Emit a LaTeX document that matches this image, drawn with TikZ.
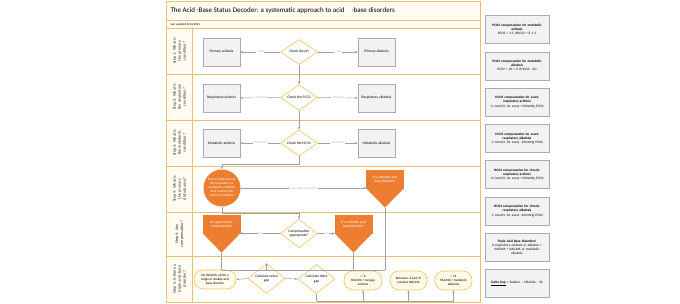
\documentclass[tikz,border=0pt]{standalone}
\usepackage{fontspec}
\setmainfont{Carlito}
\usetikzlibrary{arrows.meta,shapes.geometric,positioning,calc}
\definecolor{laneGold}{RGB}{231,194,110}
\definecolor{diaGold}{RGB}{240,196,96}
\definecolor{decOrange}{RGB}{237,125,49}
\definecolor{boxGray}{RGB}{170,170,170}
\definecolor{boxFill}{RGB}{242,242,242}
\definecolor{lineGray}{RGB}{160,160,160}
\definecolor{creamFill}{RGB}{255,251,240}
\definecolor{stadFill}{RGB}{255,249,232}

\begin{document}
\begin{tikzpicture}[x=1pt, y=-1pt,
  every node/.style={font=\fontsize{3.6}{4.3}\selectfont},
  lanerule/.style={laneGold, line width=0.8pt},
  lanelabel/.style={rotate=90, align=center, text=black!80,
                    font=\fontsize{4.2}{5}\selectfont},
  procbox/.style={draw=boxGray, fill=boxFill, minimum width=37pt,
                  minimum height=28pt, align=center, inner sep=1pt},
  decision/.style={diamond, draw=diaGold, fill=white, line width=0.6pt,
                   minimum width=37pt, minimum height=25pt, inner sep=0pt,
                   align=center},
  primcirc/.style={circle, fill=decOrange, text=white, minimum size=37pt,
                   inner sep=0pt, align=center,
                   font=\fontsize{3.3}{4}\selectfont},
  sigtop/.style={fill=decOrange, draw=decOrange, line width=0.2pt,
                 text=white, minimum width=37pt, minimum height=18pt,
                 inner sep=0pt, align=center},
  stadium/.style={draw=diaGold, fill=stadFill, line width=0.6pt,
                  rounded corners=9pt, minimum width=37pt,
                  minimum height=19pt, inner sep=0.5pt, align=center,
                  font=\fontsize{3.3}{4}\selectfont},
  notebox/.style={draw=boxGray, fill=boxFill, minimum width=64pt,
                  minimum height=28pt, text width=63pt, align=center,
                  inner sep=0.5pt, font=\fontsize{3.4}{4.2}\selectfont},
  elabel/.style={fill=white, text=black!30, inner sep=0.6pt,
                 font=\fontsize{3}{3.5}\selectfont},
  arrow/.style={-{Stealth[length=3pt,width=2.4pt]}, lineGray, line width=0.5pt},
  line/.style={lineGray, line width=0.5pt},
]
\useasboundingbox (0,0) rectangle (680,304);

%% ── Frame, title and swim lanes ──────────────────────────────────────────
\draw[lanerule, fill=creamFill] (166,1) rectangle (480,302);
\fill[white] (192,28) rectangle (480,302);
\foreach \y in {20,28,74,120,166,212,256} {
  \draw[lanerule] (166,\y) -- (480,\y);
}
\draw[lanerule] (192,28) -- (192,302);
\draw[lanerule] (166,1) rectangle (480,302);

\node[anchor=west, font=\fontsize{7}{8}\selectfont] (title) at (167,11)
  {The Acid -Base Status Decoder: a systematic approach to acid\hspace{7pt}-base disorders};
\node[anchor=west, font=\fontsize{3}{3.5}\selectfont] (updated) at (167,24.3)
  {Last updated 8/24/2021};

\foreach \i/\y/\txt in {
  1/51/{Step 1: What is\\the primary\\condition?},
  2/97/{Step 2: What is\\the respiratory\\condition?},
  3/143/{Step 3: What is\\the metabolic\\condition?},
  4/189/{Step 4: What is\\the primary\\disturbance?},
  5/234/{Step 4: Any\\compensation?},
  6/279/{Step 5: Is there a\\triple acid -base\\disorder?}} {
  \node[lanelabel] (step\i) at (179.5,\y) {\txt};
}

%% ── Steps 1-3: pH, PCO2, HCO3 ────────────────────────────────────────────
\node[procbox] (pacid) at (221.5,52) {Primary acidosis};
\node[decision] (ph)   at (299,52)   {Check the pH};
\node[procbox] (palk)  at (376.5,52) {Primary alkalosis};

\node[procbox] (racid) at (221.5,98) {Respiratory acidosis};
\node[decision] (pco)  at (299,97.5) {Check the PCO2};
\node[procbox] (ralk)  at (376.5,98) {Respiratory alkalosis};

\node[procbox] (macid) at (221.5,143) {Metabolic acidosis};
\node[decision] (hco)  at (299,143)   {Check the HCO3};
\node[procbox] (malk)  at (376.5,143) {Metabolic alkalosis};

\draw[arrow] (ph.west)  -- node[elabel] {<7.40} (pacid.east);
\draw[arrow] (ph.east)  -- node[elabel] {>7.40} (palk.west);
\draw[arrow] (ph.south) -- (pco.north);
\draw[arrow] (pco.west) -- node[elabel] {>40mmHg} (racid.east);
\draw[arrow] (pco.east) -- node[elabel] {<40mmHg} (ralk.west);
\draw[arrow] (pco.south) -- (hco.north);
\draw[arrow] (hco.west) -- node[elabel] {<24mmol/L} (macid.east);
\draw[arrow] (hco.east) -- node[elabel] {>24mmol/L} (malk.west);

%% ── Step 4: primary disturbance ──────────────────────────────────────────
\node[primcirc] (prim) at (222,188)
  {Primary disturbance:\\the respiratory or\\metabolic condition\\that matches the\\primary condition};
\node[sigtop] (dbl1) at (385,179.5) {It's a double acid\\base disorder!};
\coordinate (dbl1-tip) at ($(dbl1.south)+(0,19)$);
\fill[decOrange] (dbl1.south west) -- (dbl1.south east) -- (dbl1-tip) -- cycle;

\draw[arrow] (hco.south) -- ++(0,8) -| (prim.north);
\draw[arrow] (prim.east) -- node[elabel] {More than one match?}
  (prim.east -| dbl1.west);

%% ── Step 4: compensation ─────────────────────────────────────────────────
\node[decision, minimum height=27pt] (comp) at (299,233.5)
  {Compensation\\appropriate?};
\node[sigtop] (appr) at (221.5,224.5) {It's appropriate\\compensation};
\coordinate (appr-tip) at ($(appr.south)+(0,19)$);
\fill[decOrange] (appr.south west) -- (appr.south east) -- (appr-tip) -- cycle;
\node[sigtop] (dbl2) at (353.5,224.5) {It's a double acid\\base disorder!};
\coordinate (dbl2-tip) at ($(dbl2.south)+(0,19)$);
\fill[decOrange] (dbl2.south west) -- (dbl2.south east) -- (dbl2-tip) -- cycle;

\draw[arrow] (prim.south) -- ++(0,7) -| (comp.north);
\draw[arrow] (comp.west) -- node[elabel] {Yes} (comp.west -| appr.east);
\draw[arrow] (comp.east) -- node[elabel] {No} (comp.east -| dbl2.west);

%% ── Step 5: triple disorder ──────────────────────────────────────────────
\node[stadium, minimum width=42pt] (nohag) at (215,279.5)
  {No HAGMA; either a\\single or double acid\\base disorder};
\node[decision, minimum height=30pt] (ag) at (266.5,278.5)
  {Calculate anion\\gap};
\node[decision, minimum height=29pt] (dg) at (316.5,279)
  {Calculate delta\\gap};
\node[stadium, minimum width=38pt] (hag1) at (363,280.5)
  {< -6\\HAGMA + nongap\\acidosis};
\node[stadium] (hag2) at (408.5,280.5) {Between -6 and +6\\Isolated HAGMA};
\node[stadium] (hag3) at (453.5,280.5) {> +6\\HAGMA + metabolic\\alkalosis};

%% bus from the three orange outcomes
\draw[line] (appr-tip) -- ++(0,17.5) coordinate (busL);
\draw[line] (dbl2-tip) -- (dbl2-tip |- busL);
\draw[line] (dbl1-tip) -- (dbl1-tip |- busL);
\draw[line] (busL) -- (busL -| dbl1-tip);
\draw[arrow] (busL -| ag.north) -- (ag.north);

\draw[arrow] (ag.west) -- (nohag.east);
\draw[arrow] (ag.east) -- (dg.west);

%% bus from the delta gap
\draw[line] (dg.south) -- ++(0,7) coordinate (busD);
\draw[line] (busD) -- (busD -| hag3.south);
\foreach \n in {hag1,hag2,hag3} {
  \draw[arrow] (busD -| \n.south) -- (\n.south);
}

%% ── Reference notes ──────────────────────────────────────────────────────
\foreach \i/\head/\body in {
  1/{PCO2 compensation for metabolic\\acidosis}/{PCO2 = 1.5 (HCO3) + 8 ± 2},
  2/{PCO2 compensation for metabolic\\alkalosis}/{PCO2 = 40 + 0.7(HCO3– 24)},
  3/{HCO3 compensation for acute\\respiratory acidosis}/{+1 mmol/L for every +10mmHg PCO2},
  4/{HCO3 compensation for acute\\respiratory alkalosis}/{-2 mmol/L for every -10mmHg PCO2},
  5/{HCO3 compensation for chronic\\respiratory acidosis}/{+4 mmol/L for every +10mmHg PCO2},
  6/{HCO3 compensation for chronic\\respiratory alkalosis}/{-5 mmol/L for every -10mmHg PCO2},
  7/{Triple Acid Base Disorders!}/{A respiratory acidosis or alkalosis +\\HAGMA + NAGMA or metabolic\\alkalosis}} {
  \pgfmathsetmacro{\y}{29.5 + (\i - 1) * 36.3}
  \node[notebox] (note\i) at (517,\y) {\textbf{\head}\\\body};
}
\node[notebox] (note8) at (517,283.6)
  {\textbf{\underline{Delta Gap}} = Sodium – Chloride - 36};

\end{tikzpicture}
\end{document}
